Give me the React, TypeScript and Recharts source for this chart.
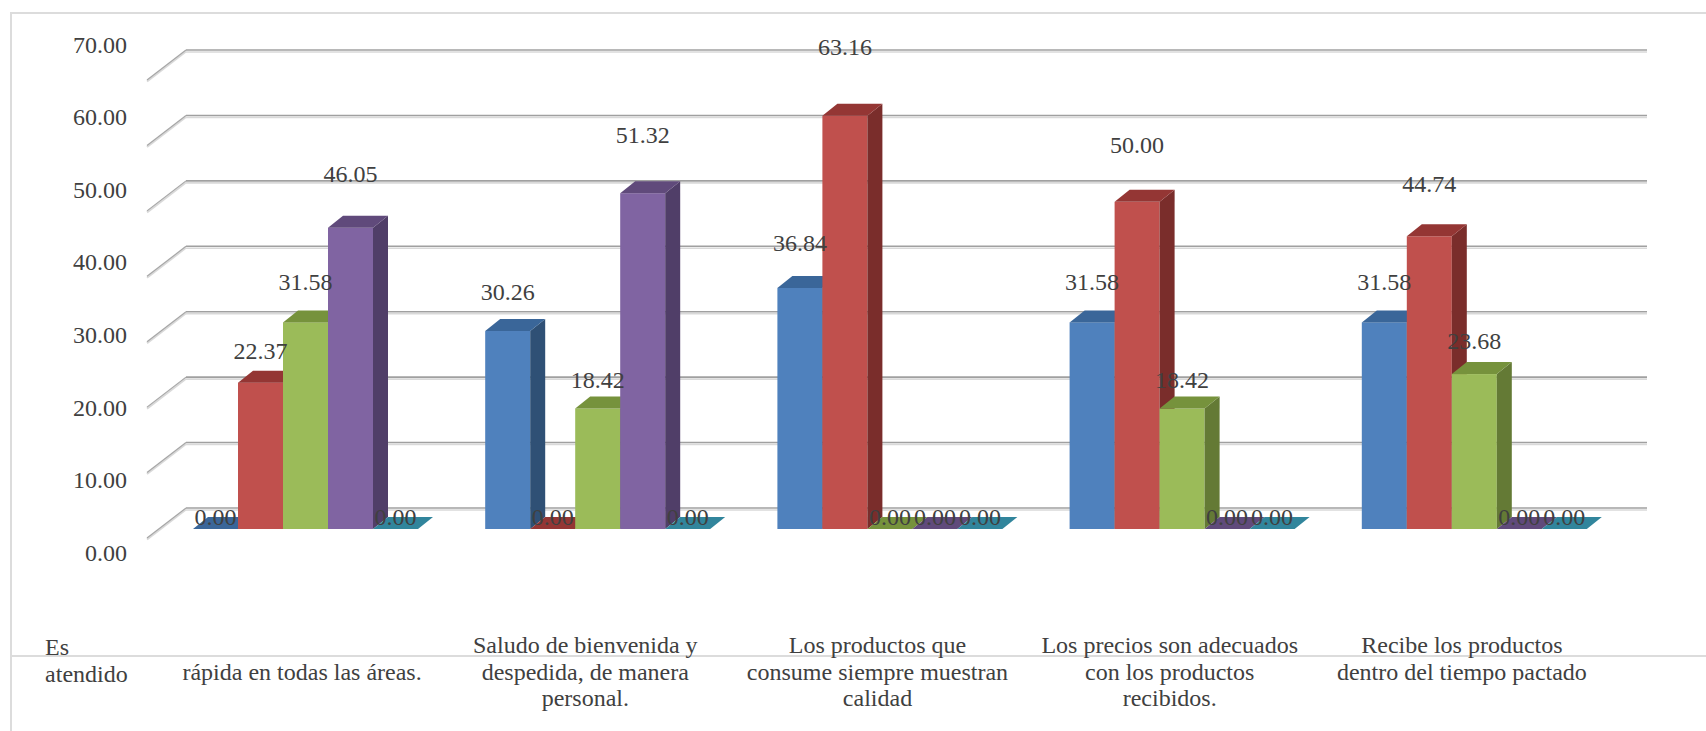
import { BarChart, Bar, XAxis, YAxis, CartesianGrid, LabelList } from "recharts"

// categories (as printed under the floor; the first one is cut in the original)
const categoryKeys = [
  "Es atendido de manera rápida en todas las áreas.",
  "Saludo de bienvenida y despedida, de manera personal.",
  "Los productos que consume siempre muestran calidad",
  "Los precios son adecuados con los productos recibidos.",
  "Recibe los productos dentro del tiempo pactado",
]
const categoryLines = [
  ["", "rápida en todas las áreas."],
  ["Saludo de bienvenida y", "despedida, de manera", "personal."],
  ["Los productos que", "consume siempre muestran", "calidad"],
  ["Los precios son adecuados", "con los productos", "recibidos."],
  ["Recibe los productos", "dentro del tiempo pactado"],
]
const firstCategoryLead = ["Es", "atendido"]

// series values (%)
const serie1 = [0.0, 30.26, 36.84, 31.58, 31.58]
const serie2 = [22.37, 0.0, 63.16, 50.0, 44.74]
const serie3 = [31.58, 18.42, 0.0, 18.42, 23.68]
const serie4 = [46.05, 51.32, 0.0, 0.0, 0.0]
const serie5 = [0.0, 0.0, 0.0, 0.0, 0.0]

const yTicks = [0, 10, 20, 30, 40, 50, 60, 70]

const seriesKeys = ["s1", "s2", "s3", "s4", "s5"]
const seriesColors = [
  { front: "#4F81BD", top: "#3A6699", side: "#2F5075" },
  { front: "#C0504D", top: "#943634", side: "#7A2D2B" },
  { front: "#9BBB59", top: "#76923C", side: "#647A35" },
  { front: "#8064A2", top: "#604A7B", side: "#503E68" },
  { front: "#4BACC6", top: "#31859C", side: "#2A7085" },
]

const data = categoryKeys.map((name, i) => ({
  name,
  s1: serie1[i],
  s2: serie2[i],
  s3: serie3[i],
  s4: serie4[i],
  s5: serie5[i],
}))

const FONT = "Liberation Serif, Times New Roman, serif"
const TEXT = "#404040"
const DEPTH_X = 15
const DEPTH_Y = 12
const WALL_X = 27
const WALL_Y = 21
const FLOOR_X = 12
const FLOOR_Y = 9

function Bar3D(props: any) {
  const { x, y, width, height, colors } = props
  if (x == null || y == null) return null
  const top = `${x},${y} ${x + DEPTH_X},${y - DEPTH_Y} ${x + width + DEPTH_X},${y - DEPTH_Y} ${x + width},${y}`
  if (!height) return <polygon points={top} fill={colors.top} />
  const side = `${x + width},${y} ${x + width + DEPTH_X},${y - DEPTH_Y} ${x + width + DEPTH_X},${y + height - DEPTH_Y} ${x + width},${y + height}`
  return (
    <g>
      <rect x={x} y={y} width={width} height={height} fill={colors.front} />
      <polygon points={side} fill={colors.side} />
      <polygon points={top} fill={colors.top} />
    </g>
  )
}

function ValueLabel(props: any) {
  const { x, y, width, value } = props
  const v = Number(value)
  return (
    <text
      x={Number(x) + Number(width) / 2}
      y={Number(y) - 12 - 0.9 * v}
      textAnchor="middle"
      dominantBaseline="central"
      fontFamily={FONT}
      fontSize={24}
      fill={TEXT}
    >
      {v.toFixed(2)}
    </text>
  )
}

function GridLine(props: any) {
  const { x1, y1, x2 } = props
  const by = y1 - WALL_Y
  return (
    <g key={props.key}>
      <line x1={x1 + WALL_X} y1={by + 2} x2={x2 + WALL_X} y2={by + 2} stroke="#d9d9d9" strokeWidth={1.6} />
      <line x1={x1 + WALL_X} y1={by} x2={x2 + WALL_X} y2={by} stroke="#a0a0a0" strokeWidth={1.6} />
      <line x1={x1 - FLOOR_X} y1={y1 + FLOOR_Y + 1.5} x2={x1 + WALL_X} y2={by + 1.5} stroke="#d9d9d9" strokeWidth={2} />
      <line x1={x1 - FLOOR_X} y1={y1 + FLOOR_Y} x2={x1 + WALL_X} y2={by} stroke="#a6a6a6" strokeWidth={1.2} />
    </g>
  )
}

function YTick(props: any) {
  const { x, y, payload } = props
  const v = Number(payload.value)
  return (
    <text x={x} y={y + 24 - 0.72 * v} textAnchor="end" dominantBaseline="central" fontFamily={FONT} fontSize={24} fill={TEXT}>
      {v.toFixed(2)}
    </text>
  )
}

function XTick(props: any) {
  const { x, y, index } = props
  const lines = categoryLines[index] || []
  const cx = x - FLOOR_X
  return (
    <g>
      {index === 0 &&
        firstCategoryLead.map((t, i) => (
          <text key={"l" + i} x={x - 260} y={y + 118 + i * 27} textAnchor="start" dominantBaseline="central" fontFamily={FONT} fontSize={24} fill={TEXT}>
            {t}
          </text>
        ))}
      {lines.map((t, i) => (
        <text key={i} x={index === 0 ? x - 3 : cx} y={y + 116 + i * 26.5} textAnchor="middle" dominantBaseline="central" fontFamily={FONT} fontSize={24} fill={TEXT}>
          {t}
        </text>
      ))}
    </g>
  )
}

export default function App() {
  return (
    <div style={{ position: "relative", width: 1706, height: 731, background: "#fff" }}>
      <style>{"body{margin:0}"}</style>
      <div style={{ position: "absolute", left: 10, top: 12, width: 1696, height: 2, background: "#dcdcdc" }} />
      <div style={{ position: "absolute", left: 10, top: 12, width: 2, height: 719, background: "#dcdcdc" }} />
      <div style={{ position: "absolute", left: 10, top: 655, width: 1696, height: 2, background: "#dcdcdc" }} />
      <div style={{ position: "absolute", left: 0, top: 0 }}>
        <BarChart
          width={1706}
          height={731}
          data={data}
          margin={{ top: 71, right: 86, left: 149, bottom: 192 }}
          barSize={45}
          barGap={0}
        >
          <CartesianGrid vertical={false} horizontal={GridLine} />
          <YAxis
            domain={[0, 70]}
            ticks={yTicks}
            width={10}
            axisLine={false}
            tickLine={false}
            tickSize={0}
            tickMargin={32}
            tick={YTick}
            interval={0}
          />
          <XAxis
            dataKey="name"
            height={10}
            axisLine={false}
            tickLine={false}
            tickSize={0}
            tickMargin={0}
            tick={XTick}
            interval={0}
          />
          {seriesKeys.map((k, i) => (
            <Bar
              key={k}
              dataKey={k}
              isAnimationActive={false}
              shape={(p: any) => <Bar3D {...p} colors={seriesColors[i]} />}
            >
              <LabelList dataKey={k} content={ValueLabel} />
            </Bar>
          ))}
        </BarChart>
      </div>
    </div>
  )
}
